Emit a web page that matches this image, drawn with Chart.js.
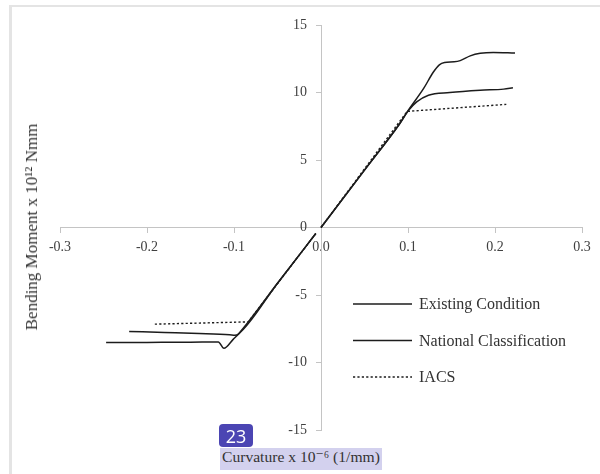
<!DOCTYPE html>
<html>
<head>
<meta charset="utf-8">
<script src="https://cdn.jsdelivr.net/npm/chart.js@4/dist/chart.umd.min.js"></script>
<style>
  html, body { margin: 0; padding: 0; background: #ffffff; }
  #wrap { position: relative; width: 600px; height: 474px; overflow: hidden; }
  #frame { position: absolute; left: 9px; top: 5px; right: -4px; bottom: -4px;
           border-top: 2px solid #e4e4e4; border-left: 3px solid #e4e4e4; }
  #chart { position: absolute; left: 0; top: 0; }
  #ytitle { position: absolute; left: 32px; top: 227px; transform: translate(-50%, -50%) rotate(-90deg);
            white-space: nowrap; font: 17px "Liberation Serif", "DejaVu Serif", serif; color: #333; }
  #xtitle { position: absolute; left: 220px; top: 448px; height: 22px; line-height: 22px; padding: 0 2px;
            background: #d3d1ee; white-space: nowrap; font: 15.6px "Liberation Serif", "DejaVu Serif", serif; color: #333; }
  #badge { position: absolute; left: 219px; top: 424px; width: 34px; height: 23px; line-height: 23px;
           border-radius: 4px; background: #4b45b3; color: #fff; text-align: center;
           font: 18px "Open Sans", "Noto Sans", sans-serif; }
</style>
</head>
<body>
<div id="wrap">
  <div id="frame"></div>
  <canvas id="chart" width="600" height="474"></canvas>
  <div id="ytitle">Bending Moment x 10¹² Nmm</div>
  <div id="badge">23</div>
  <div id="xtitle">Curvature x 10⁻⁶ (1/mm)</div>
</div>
<script>
// Moment–curvature curves (hogging branch, break, sagging branch)
const seriesNames = ['Existing Condition', 'National Classification', 'IACS'];

const existingCurvature = [-0.247, -0.20, -0.15, -0.118, -0.1116, -0.1007, -0.095, -0.05, -0.006, -0.003,
                           0, 0.05, 0.09, 0.10, 0.118, 0.129, 0.136, 0.142, 0.153, 0.160, 0.1715, 0.183, 0.198, 0.223];
const existingMoment    = [-8.52, -8.51, -8.50, -8.48, -8.95, -8.27, -7.90, -4.13, -0.45, null,
                           0, 4.25, 7.65, 8.65, 10.3, 11.5, 12.05, 12.22, 12.27, 12.36, 12.71, 12.90, 12.97, 12.93];

const nationalCurvature = [-0.2205, -0.18, -0.14, -0.105, -0.099, -0.095, -0.05, -0.006, -0.003,
                           0, 0.05, 0.09, 0.10, 0.11, 0.1235, 0.148, 0.183, 0.21, 0.2206];
const nationalMoment    = [-7.70, -7.78, -7.86, -7.95, -7.98, -7.90, -4.13, -0.45, null,
                           0, 4.25, 7.65, 8.62, 9.3, 9.8, 10.0, 10.17, 10.25, 10.35];

const iacsCurvature = [-0.191, -0.14, -0.0836, -0.006, -0.003, 0, 0.099, 0.213];
const iacsMoment    = [-7.16, -7.08, -6.99, -0.45, null, 0, 8.6, 9.12];

const xTickLabels = ['-0.3', '-0.2', '-0.1', '0.0', '0.1', '0.2', '0.3'];
const yTickValues = [-15, -10, -5, 0, 5, 10, 15];

const toPoints = (xs, ys) => xs.map((x, i) => ({ x: x, y: ys[i] }));

// Legend drawn inside the plot, to the right of the lower half
const innerLegend = {
  id: 'innerLegend',
  afterDraw(chart) {
    const ctx = chart.ctx;
    const x0 = 353, x1 = 412, tx = 419, ys = [304, 340.5, 377];
    ctx.save();
    chart.data.datasets.forEach((ds, i) => {
      ctx.beginPath();
      ctx.strokeStyle = ds.borderColor;
      ctx.lineWidth = ds.borderWidth;
      ctx.setLineDash(ds.borderDash || []);
      ctx.moveTo(x0, ys[i]);
      ctx.lineTo(x1, ys[i]);
      ctx.stroke();
      ctx.setLineDash([]);
      ctx.fillStyle = '#333';
      ctx.font = '16px "Liberation Serif", "DejaVu Serif", serif';
      ctx.textBaseline = 'middle';
      ctx.textAlign = 'left';
      ctx.fillText(ds.label, tx, ys[i] + 1);
    });
    ctx.restore();
  }
};

const lineStyle = { showLine: true, pointRadius: 0, pointHoverRadius: 0, borderColor: '#1c1c1c',
                    borderWidth: 1.5, fill: false, spanGaps: false };

const tickFont = { family: '"Liberation Serif", "DejaVu Serif", serif', size: 14 };

new Chart(document.getElementById('chart'), {
  type: 'scatter',
  data: {
    datasets: [
      Object.assign({ label: seriesNames[0], data: toPoints(existingCurvature, existingMoment),
                      cubicInterpolationMode: 'monotone' }, lineStyle),
      Object.assign({ label: seriesNames[1], data: toPoints(nationalCurvature, nationalMoment),
                      cubicInterpolationMode: 'monotone' }, lineStyle),
      Object.assign({}, lineStyle, { label: seriesNames[2], data: toPoints(iacsCurvature, iacsMoment),
                      tension: 0, borderDash: [2.2, 2.2], borderWidth: 1.4 })
    ]
  },
  options: {
    responsive: false,
    animation: false,
    events: [],
    layout: { padding: { left: 60, right: 18, top: 25, bottom: 44 } },
    plugins: { legend: { display: false }, tooltip: { enabled: false } },
    scales: {
      x: {
        type: 'linear',
        position: { y: 0 },
        min: -0.3, max: 0.3,
        afterBuildTicks(scale) {
          scale.ticks = xTickLabels.map(t => ({ value: parseFloat(t) }));
        },
        ticks: {
          autoSkip: false, maxRotation: 0, padding: 6,
          color: '#404040',
          font: tickFont,
          callback: (v, i) => xTickLabels[i]
        },
        grid: { drawOnChartArea: false, drawTicks: true, tickLength: 5, color: '#c4c4c4' },
        border: { display: true, color: '#c4c4c4', width: 1 }
      },
      y: {
        type: 'linear',
        position: { x: 0 },
        min: -15, max: 15,
        afterBuildTicks(scale) {
          scale.ticks = yTickValues.map(v => ({ value: v }));
        },
        ticks: {
          autoSkip: false,
          color: '#404040',
          font: tickFont,
          // right-aligned at the axis line; the em space keeps a gap to the tick marks
          callback: v => String(v) + '\u2003'
        },
        grid: { drawOnChartArea: false, drawTicks: true, tickLength: 5, color: '#c4c4c4' },
        border: { display: true, color: '#c4c4c4', width: 1 }
      }
    }
  },
  plugins: [innerLegend]
});
</script>
</body>
</html>
